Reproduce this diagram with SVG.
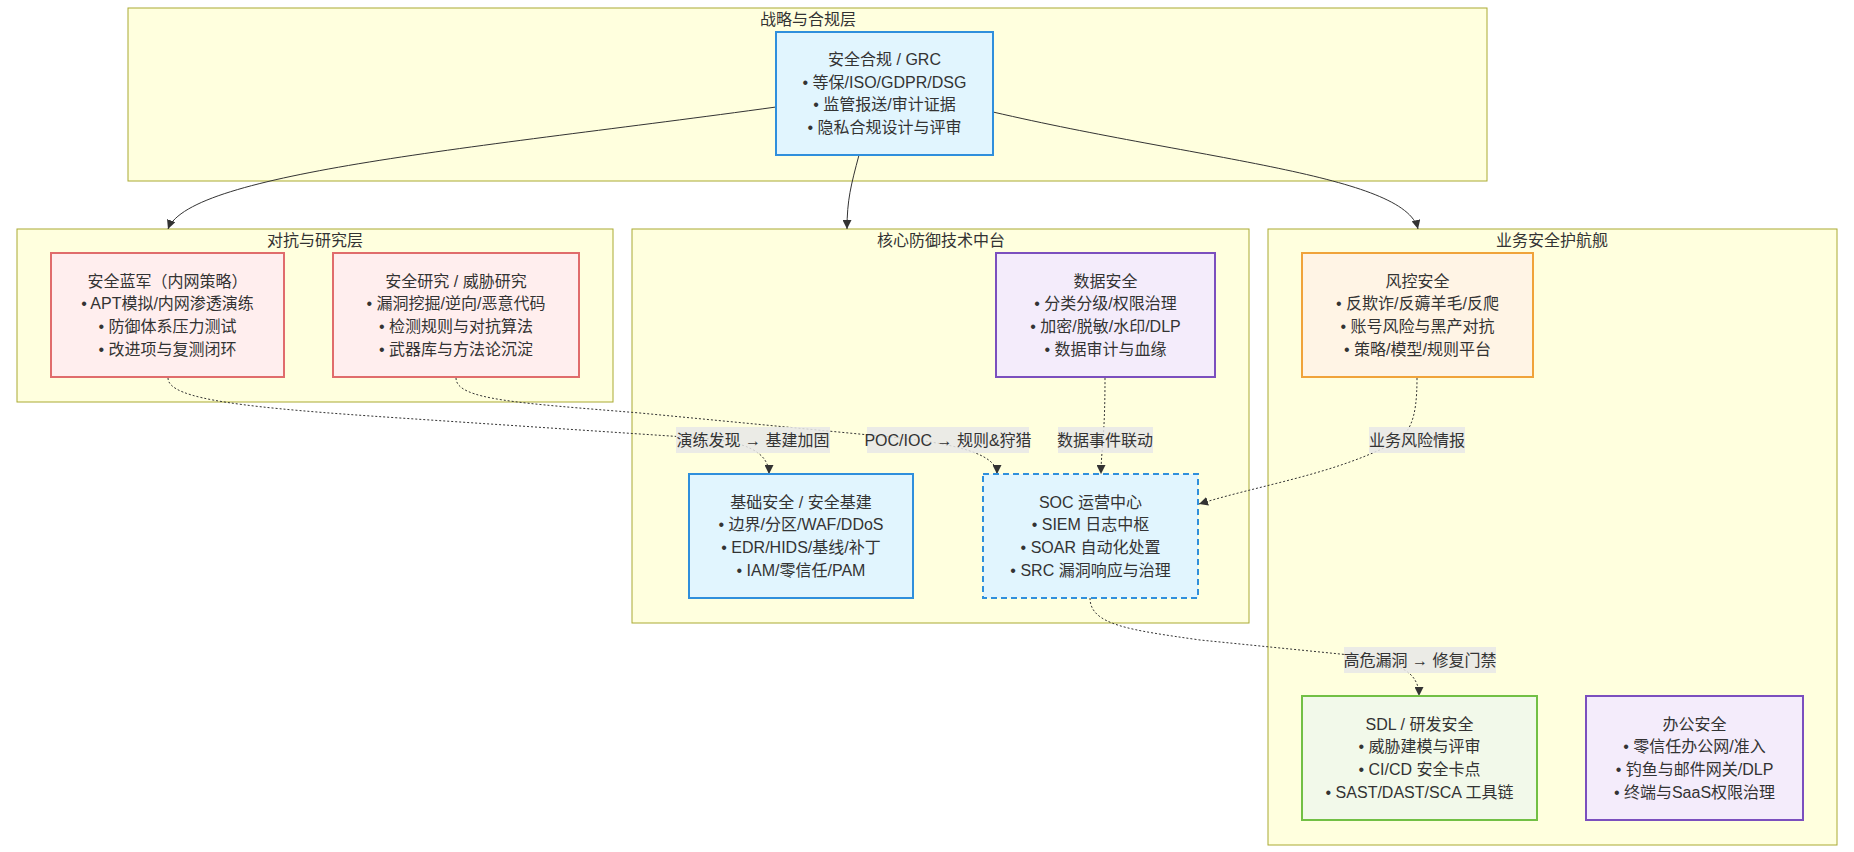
<svg xmlns="http://www.w3.org/2000/svg" width="1854" height="852" viewBox="0 0 1854 852">
<style>
text{font-family:"Liberation Sans Narrow","Liberation Sans","Noto Sans CJK SC",sans-serif;font-size:16px;fill:#333;text-anchor:middle;dominant-baseline:central}
.cl{fill:#ffffde;stroke:#aaaa33;stroke-width:1}
.blue{fill:#e1f5fe;stroke:#2f8fdc;stroke-width:2}
.red{fill:#ffeeee;stroke:#e06c6c;stroke-width:2}
.pur{fill:#f4ecfb;stroke:#7b4fbe;stroke-width:2}
.org{fill:#fff4e5;stroke:#f0a33a;stroke-width:2}
.grn{fill:#f2f9ea;stroke:#72c045;stroke-width:2}
.dash{stroke-dasharray:6 4}
.e{fill:none;stroke:#333;stroke-width:1}
.d{stroke-dasharray:2 2}
.lb{fill:#e8e8e8;fill-opacity:0.85}
</style>
<defs>
<marker id="arr" viewBox="0 0 10 10" refX="10" refY="5" markerWidth="9" markerHeight="9" markerUnits="userSpaceOnUse" orient="auto">
<path d="M0,0 L10,5 L0,10 z" fill="#333"/>
</marker>
</defs>

<g id="cluster-strategy">
<rect class="cl" x="128" y="8" width="1359" height="173"/>
<text x="808" y="19">战略与合规层</text>
</g>
<g id="cluster-adversarial">
<rect class="cl" x="17" y="229" width="596" height="173"/>
<text x="315" y="240">对抗与研究层</text>
</g>
<g id="cluster-core">
<rect class="cl" x="632" y="229" width="617" height="394"/>
<text x="941" y="240">核心防御技术中台</text>
</g>
<g id="cluster-business">
<rect class="cl" x="1268" y="229" width="569" height="616"/>
<text x="1552" y="240">业务安全护航舰</text>
</g>

<g id="connectors">
<path class="e" d="M776,107 C480,148 190,172 168,229" marker-end="url(#arr)"/>
<path class="e" d="M859,155 C851,185 847,200 847,229" marker-end="url(#arr)"/>
<path class="e" d="M993,112 C1200,160 1405,175 1418,229" marker-end="url(#arr)"/>
<path class="e d" d="M168,378 C168,400 250,408 400,418 L700,438 C745,441 769,452 769,474" marker-end="url(#arr)"/>
<path class="e d" d="M456,378 C456,400 520,403 640,413 L880,436 C960,443 997,455 997,474" marker-end="url(#arr)"/>
<path class="e d" d="M1105,378 C1105,440 1101,450 1101,474" marker-end="url(#arr)"/>
<path class="e d" d="M1417,378 C1417,420 1410,435 1390,445 C1330,475 1260,485 1199,504" marker-end="url(#arr)"/>
<path class="e d" d="M1090,598 C1090,625 1130,630 1200,640 L1350,655 C1400,662 1419,672 1419,696" marker-end="url(#arr)"/>
<g id="edge-labels">
<rect class="lb" x="676" y="427" width="154" height="26"/>
<text x="753" y="440">演练发现 → 基建加固</text>
<rect class="lb" x="867" y="427" width="162" height="26"/>
<text x="948" y="440">POC/IOC → 规则&amp;狩猎</text>
<rect class="lb" x="1058" y="427" width="95" height="26"/>
<text x="1105" y="440">数据事件联动</text>
<rect class="lb" x="1369" y="427" width="96" height="26"/>
<text x="1417" y="440">业务风险情报</text>
<rect class="lb" x="1344" y="647" width="152" height="26"/>
<text x="1420" y="660">高危漏洞 → 修复门禁</text>
</g>
</g>

<g id="node-grc">
<rect class="blue" x="776" y="32" width="217" height="123"/>
<text x="884.5" y="59.5">安全合规 / GRC</text>
<text x="884.5" y="82.2">• 等保/ISO/GDPR/DSG</text>
<text x="884.5" y="104.8">• 监管报送/审计证据</text>
<text x="884.5" y="127.5">• 隐私合规设计与评审</text>
</g>

<g id="node-blueteam">
<rect class="red" x="51" y="253" width="233" height="124"/>
<text x="167.5" y="281">安全蓝军（内网策略）</text>
<text x="167.5" y="303.7">• APT模拟/内网渗透演练</text>
<text x="167.5" y="326.3">• 防御体系压力测试</text>
<text x="167.5" y="349">• 改进项与复测闭环</text>
</g>

<g id="node-research">
<rect class="red" x="333" y="253" width="246" height="124"/>
<text x="456" y="281">安全研究 / 威胁研究</text>
<text x="456" y="303.7">• 漏洞挖掘/逆向/恶意代码</text>
<text x="456" y="326.3">• 检测规则与对抗算法</text>
<text x="456" y="349">• 武器库与方法论沉淀</text>
</g>

<g id="node-data">
<rect class="pur" x="996" y="253" width="219" height="124"/>
<text x="1105.5" y="281">数据安全</text>
<text x="1105.5" y="303.7">• 分类分级/权限治理</text>
<text x="1105.5" y="326.3">• 加密/脱敏/水印/DLP</text>
<text x="1105.5" y="349">• 数据审计与血缘</text>
</g>

<g id="node-infra">
<rect class="blue" x="689" y="474" width="224" height="124"/>
<text x="801" y="502">基础安全 / 安全基建</text>
<text x="801" y="524.7">• 边界/分区/WAF/DDoS</text>
<text x="801" y="547.3">• EDR/HIDS/基线/补丁</text>
<text x="801" y="570">• IAM/零信任/PAM</text>
</g>

<g id="node-soc">
<rect class="blue dash" x="983" y="474" width="215" height="124"/>
<text x="1090.5" y="502">SOC 运营中心</text>
<text x="1090.5" y="524.7">• SIEM 日志中枢</text>
<text x="1090.5" y="547.3">• SOAR 自动化处置</text>
<text x="1090.5" y="570">• SRC 漏洞响应与治理</text>
</g>

<g id="node-risk">
<rect class="org" x="1302" y="253" width="231" height="124"/>
<text x="1417.5" y="281">风控安全</text>
<text x="1417.5" y="303.7">• 反欺诈/反薅羊毛/反爬</text>
<text x="1417.5" y="326.3">• 账号风险与黑产对抗</text>
<text x="1417.5" y="349">• 策略/模型/规则平台</text>
</g>

<g id="node-sdl">
<rect class="grn" x="1302" y="696" width="235" height="124"/>
<text x="1419.5" y="724">SDL / 研发安全</text>
<text x="1419.5" y="746.7">• 威胁建模与评审</text>
<text x="1419.5" y="769.3">• CI/CD 安全卡点</text>
<text x="1419.5" y="792">• SAST/DAST/SCA 工具链</text>
</g>

<g id="node-office">
<rect class="pur" x="1586" y="696" width="217" height="124"/>
<text x="1694.5" y="724">办公安全</text>
<text x="1694.5" y="746.7">• 零信任办公网/准入</text>
<text x="1694.5" y="769.3">• 钓鱼与邮件网关/DLP</text>
<text x="1694.5" y="792">• 终端与SaaS权限治理</text>
</g>
</svg>
